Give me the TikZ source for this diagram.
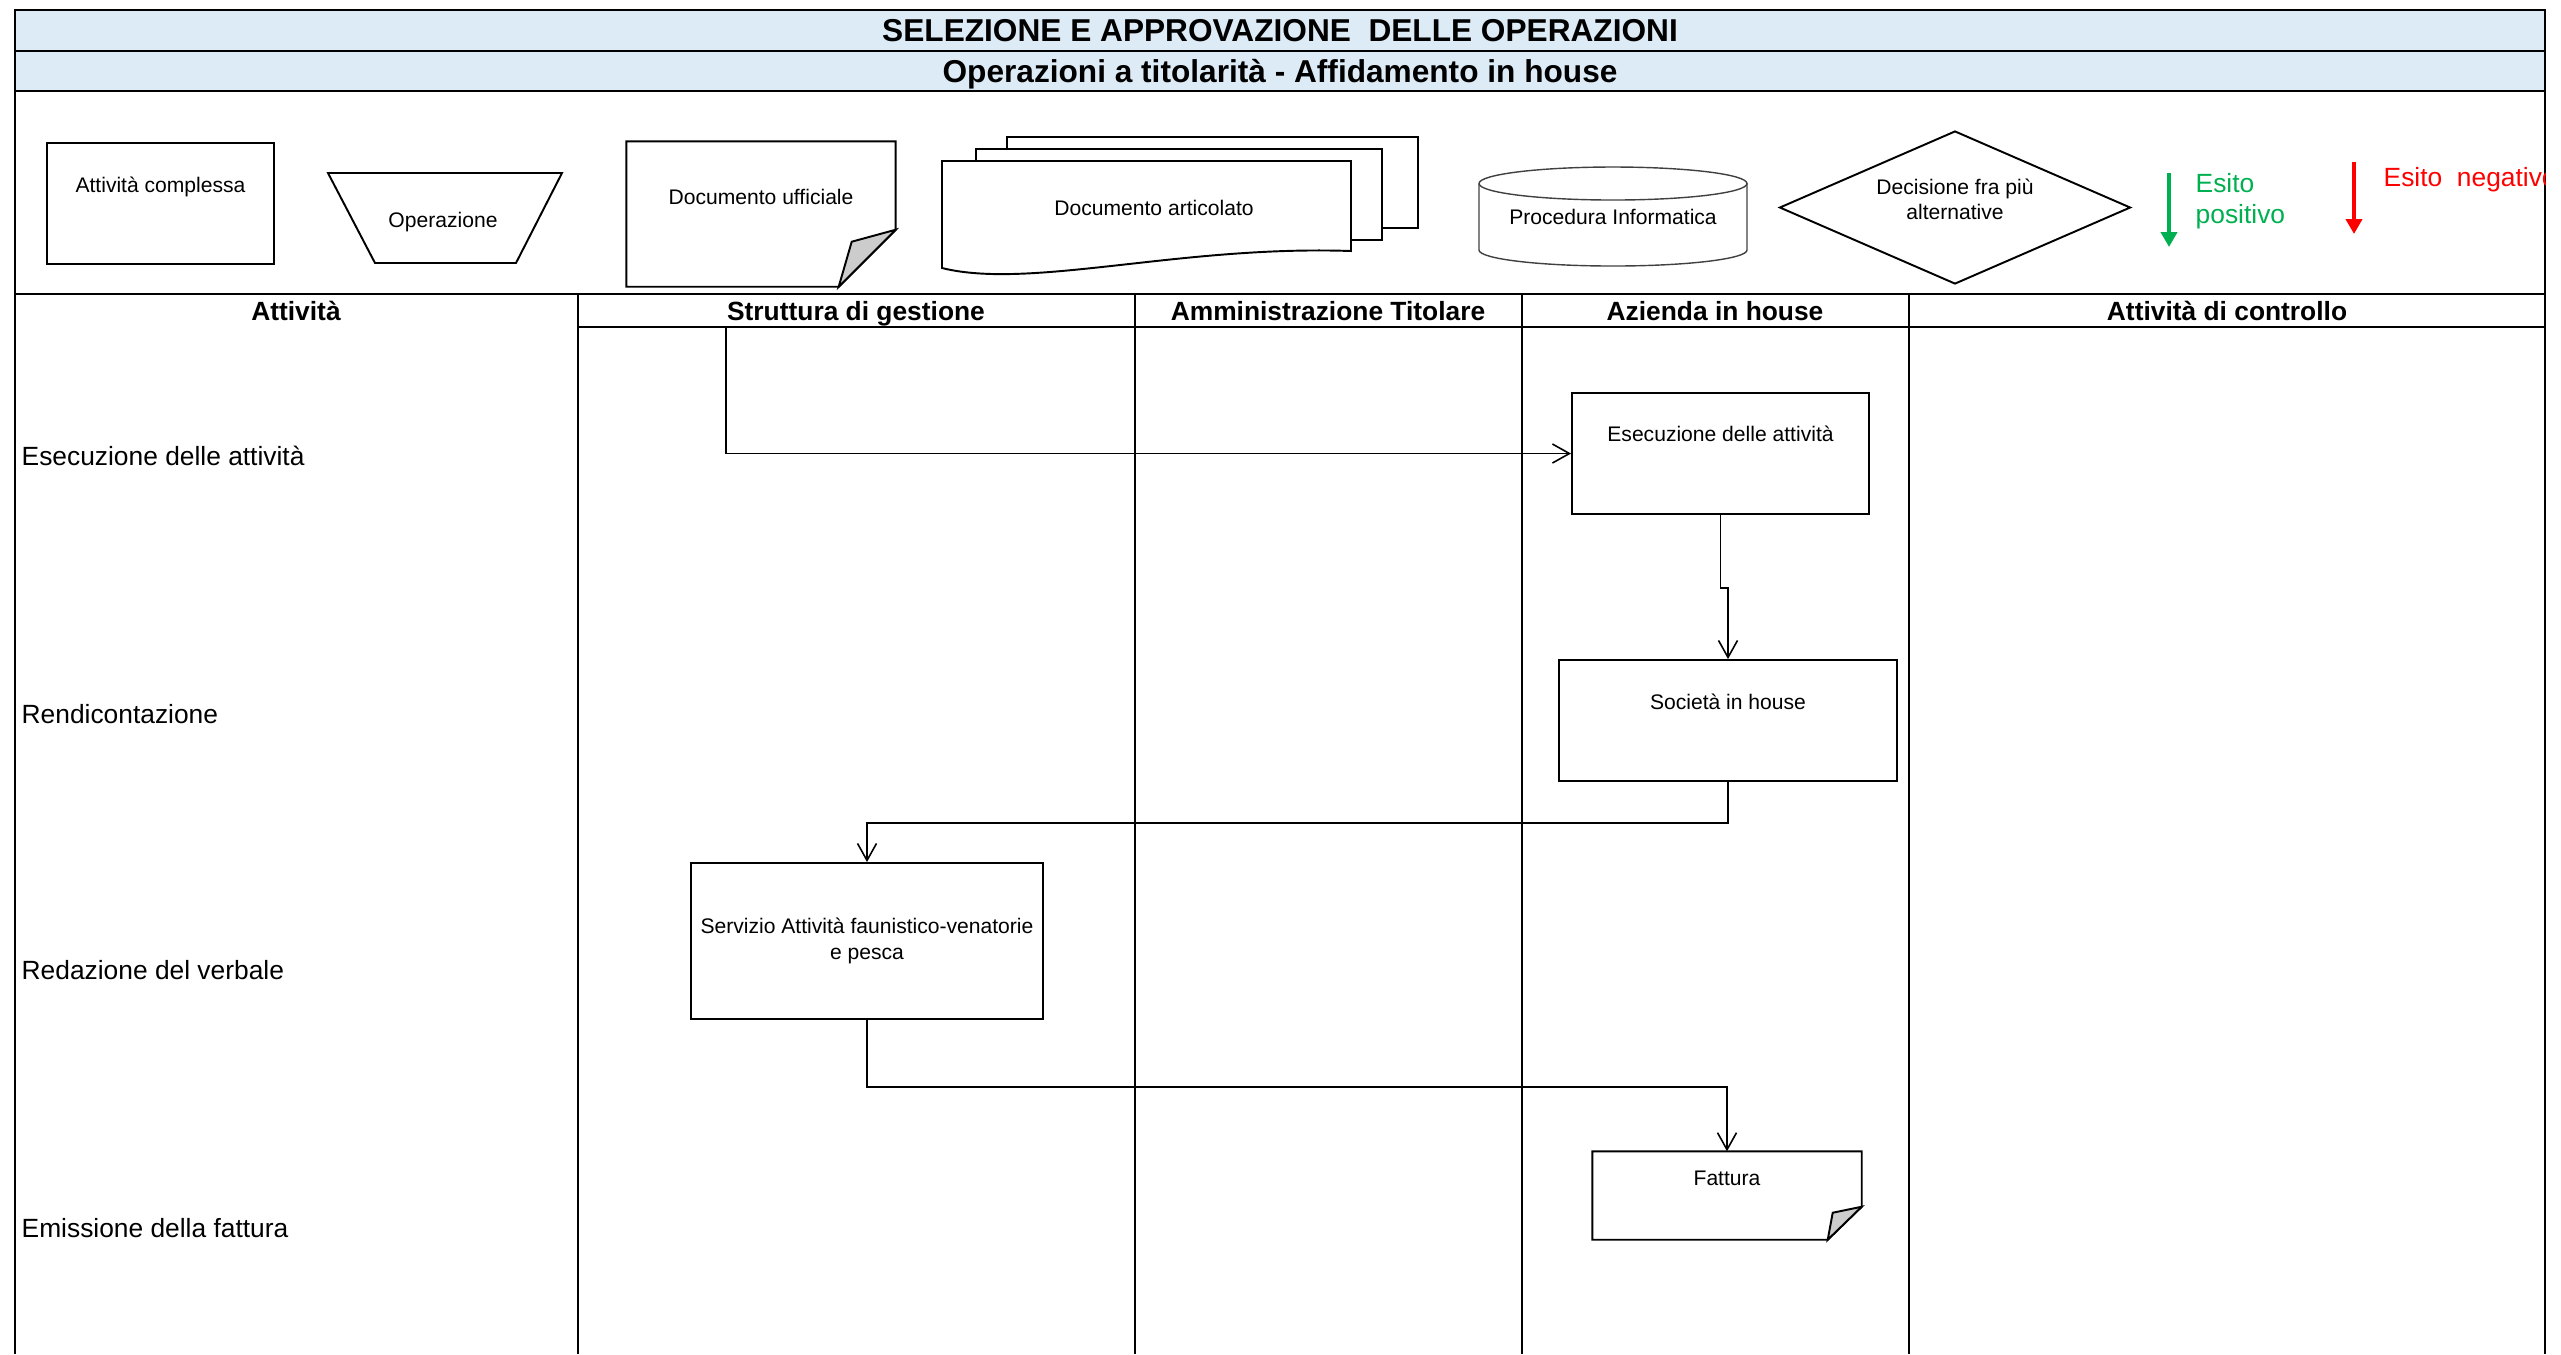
\documentclass[tikz,border=0pt]{standalone}
\usepackage{fontspec}
\setmainfont{Liberation Sans}
\usetikzlibrary{positioning,arrows.meta,shapes.geometric}
\definecolor{titlebg}{RGB}{221,235,247}
\definecolor{okgreen}{RGB}{0,176,80}
\definecolor{foldgray}{RGB}{204,204,204}

\begin{document}
\begin{tikzpicture}[x=0.1mm, y=-0.1mm,
      grid/.style={line width=0.8pt},
      box/.style={draw, line width=0.55pt, fill=white, inner sep=0pt},
      doc/.style={draw, line width=0.55pt, fill=white},
      fold/.style={draw, line width=0.55pt, fill=foldgray},
      txt/.style={font=\fontsize{6}{7.2}\selectfont, align=center},
      row/.style={font=\fontsize{7.5}{9}\selectfont, anchor=west, inner sep=0pt},
      head/.style={font=\fontsize{7.5}{9}\selectfont\bfseries, anchor=base},
      ttl/.style={font=\fontsize{9}{11}\selectfont\bfseries, anchor=base},
      esito/.style={font=\fontsize{7.5}{8.8}\selectfont, align=left, anchor=west, inner sep=0pt},
      flow/.style={line width=0.45pt, -{Straight Barb[length=1.7mm, width=1.9mm]}},
      sign/.style={line width=1.2pt, -{Triangle[length=1.5mm, width=1.6mm]}}]
  \useasboundingbox (0,0) rectangle (2561,1354);
  \filldraw[grid, fill=titlebg] (15,10) rectangle (2545,51);
  \filldraw[grid, fill=titlebg] (15,51) rectangle (2545,91);
  \node[ttl] (title) at (1280,41) {SELEZIONE E APPROVAZIONE~ DELLE OPERAZIONI};
  \node[ttl] (subtitle) at (1280,82) {Operazioni a titolarità - Affidamento in house};
  \draw[grid] (15,91) -- (15,1354);
  \draw[grid] (2545,91) -- (2545,1354);
  \draw[grid] (15,294) -- (2545,294);
  \draw[grid] (578,327) -- (2545,327);
  \foreach \x in {578,1135,1522,1909}
    \draw[grid] (\x,294) -- (\x,1354);

  % legenda
  \node[box, txt, minimum width=22.7mm, minimum height=12.1mm, text height=4.96mm, text depth=7.14mm] (lcompl) at (160.5,203.5) {Attività complessa};
  \draw[doc] (328,173) -- (562,173) -- (516,263) -- (375,263) -- cycle;
  \node[txt] (lop) at (443,222) {Operazione};
  \node[txt, minimum width=26.8mm, minimum height=14.4mm, inner sep=0pt, text height=6.26mm, text depth=8.14mm] (luff) at (761,214) {};
  \draw[doc] (luff.north west) -- (luff.north east) -- ([yshift=5.7mm]luff.south east)
    -- ([xshift=-5.7mm]luff.south east) -- (luff.south west) -- cycle;
  \filldraw[fold] ([yshift=5.7mm]luff.south east) -- ([xshift=-4.4mm, yshift=4.5mm]luff.south east)
    -- ([xshift=-5.7mm]luff.south east) -- cycle;
  \node[txt, text height=6.26mm, text depth=8.14mm, inner sep=0pt] at (luff) {Documento ufficiale};
  \draw[doc] (1007,137) rectangle (1418,228);
  \draw[doc] (976,149) rectangle (1382,240);
  \draw[doc] (942,161) -- (1351,161) -- (1351,251) .. controls (1180,245) and (1030,290) .. (942,268) -- cycle;
  \node[txt] (lart) at (1154,208) {Documento articolato};
  \draw[line width=0.4pt, black!75] (1613,183.5) ellipse [x radius=13.4mm, y radius=1.65mm];
  \draw[line width=0.4pt, black!75] (1479,183.5) -- (1479,250)
    arc[start angle=180, end angle=360, x radius=13.4mm, y radius=1.6mm] -- (1747,183.5);
  \node[txt] (lproc) at (1613,217) {Procedura Informatica};
  \node[box, diamond, aspect=2.3, minimum width=35.1mm, minimum height=15.3mm] (ldec) at (1955,207.5) {};
  \node[txt] at ([yshift=0.8mm]ldec) {Decisione fra più\\ alternative};
  \draw[sign, okgreen] (2169,173) -- (2169,247);
  \node[esito, text=okgreen] (lpos) at (2195,201.5) {Esito\\ positivo};
  \draw[sign, red] (2354,162) -- (2354,234);
  \begin{scope}
    \clip (15,91) rectangle (2545,294);
    \node[esito, text=red] (lneg) at (2383,180) {Esito~ negativo};
  \end{scope}

  % corsie
  \node[head] (hatt) at (296,320) {Attività};
  \node[head] (hstr) at (856,320) {Struttura di gestione};
  \node[head] (hamm) at (1328,320) {Amministrazione Titolare};
  \node[head] (haz) at (1715,320) {Azienda in house};
  \node[head] (hctl) at (2227,320) {Attività di controllo};
  \node[row] (r1) at (21,456) {Esecuzione delle attività};
  \node[row] (r2) at (21,714) {Rendicontazione};
  \node[row] (r3) at (21,970) {Redazione del verbale};
  \node[row] (r4) at (21,1228) {Emissione della fattura};

  \node[box, txt, minimum width=29.7mm, minimum height=12.1mm, text height=4.86mm, text depth=7.24mm] (esec) at (1720.5,453.5) {Esecuzione delle attività};
  \node[box, txt, minimum width=33.8mm, minimum height=12.1mm, text height=4.96mm, text depth=7.14mm] (soc) at (1728,720.5) {Società in house};
  \node[box, txt, minimum width=35.2mm, minimum height=15.6mm] (serv) at (867,941) {Servizio Attività faunistico-venatorie\\ e pesca};
  \node[txt, minimum width=26.8mm, minimum height=8.7mm, inner sep=0pt, text height=3.36mm, text depth=5.34mm] (fatt) at (1727,1195.5) {};
  \draw[doc] (fatt.north west) -- (fatt.north east) -- ([yshift=3.3mm]fatt.south east)
    -- ([xshift=-3.4mm]fatt.south east) -- (fatt.south west) -- cycle;
  \filldraw[fold] ([yshift=3.3mm]fatt.south east) -- ([xshift=-2.9mm, yshift=2.7mm]fatt.south east)
    -- ([xshift=-3.4mm]fatt.south east) -- cycle;
  \node[txt, text height=3.36mm, text depth=5.34mm, inner sep=0pt] at (fatt) {Fattura};

  \coordinate (start) at (726,327);
  \draw[flow] (start) |- (esec.west);
  \draw[flow] (esec.south) -- ++(0,73) -| (soc.north);
  \draw[flow] (soc.south) -- ++(0,41) -| (serv.north);
  \draw[flow] (serv.south) -- ++(0,67) -| (fatt.north);
\end{tikzpicture}
\end{document}
